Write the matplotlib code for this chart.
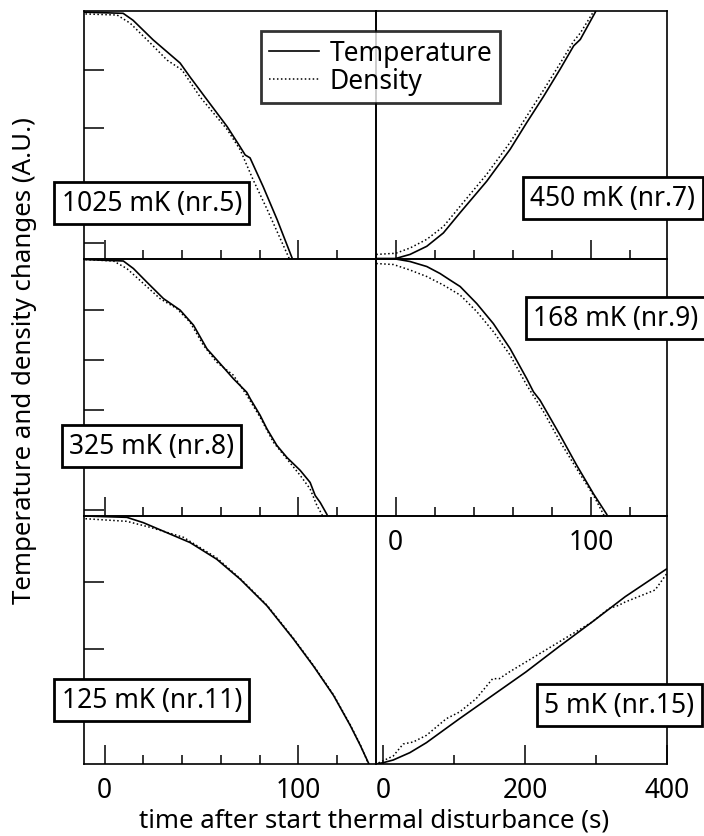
import matplotlib
matplotlib.use("Agg")
import matplotlib.pyplot as plt
from matplotlib.lines import Line2D

plt.rcParams['font.family'] = ['Noto Sans', 'DejaVu Sans']
plt.rcParams['font.size'] = 19

W, H = 704, 837

# 1025 mK (nr.5)
t5_T = [-12, -10.7, 9.5, 14.6, 25, 38.9, 44, 52.9, 63.2, 69.9, 72.5, 75, 81.8, 89, 96.8, 99]
y5_T = [0, 0, -0.02, -0.14, -0.48, -0.88, -1.12, -1.52, -1.98, -2.33, -2.47, -2.52, -3.02, -3.59, -4.26, -4.5]
t5_D = [-12, -10.7, 6.4, 13.1, 23.4, 32.2, 39.9, 49.3, 63.2, 69.9, 76.6, 83.8, 95.2, 97]
y5_D = [-0.03, -0.03, -0.05, -0.19, -0.53, -0.83, -1.0, -1.47, -2.03, -2.38, -2.9, -3.41, -4.26, -4.5]

# 450 mK (nr.7)
t7_T = [-12, -10.1, 0, 7.3, 15.9, 24.4, 33, 46.6, 58.6, 67.1, 75.7, 84.2, 91.1, 94.5, 102.2, 104]
y7_T = [0, 0, 0, 0.07, 0.21, 0.44, 0.79, 1.33, 1.88, 2.34, 2.79, 3.26, 3.66, 3.77, 4.24, 4.4]
t7_D = [-12, -10.1, 0, 7.3, 15.9, 24.4, 33, 46.6, 58.6, 67.1, 75.7, 84.2, 91.1, 94.5, 102.2, 104]
y7_D = [0.07, 0.07, 0.09, 0.18, 0.33, 0.55, 0.9, 1.45, 2.0, 2.45, 2.9, 3.36, 3.74, 3.88, 4.3, 4.45]

# 325 mK (nr.8)
t8_T = [-12, -10.5, 9.6, 14.8, 21.7, 30.3, 38.9, 45.8, 52.7, 59.6, 66.4, 73.3, 75.1, 80.2, 83.7,
        88.8, 94, 100.9, 106, 108.6, 111.2, 114.7, 116]
y8_T = [0, 0, -0.03, -0.18, -0.45, -0.78, -1.01, -1.31, -1.78, -2.08, -2.38, -2.65, -2.78, -3.11, -3.38,
        -3.71, -3.95, -4.21, -4.45, -4.71, -4.85, -5.09, -5.3]
t8_D = [-12, -10.5, 4.5, 11.4, 20, 28.5, 37.2, 44.0, 50.9, 57.8, 66.4, 73.3, 80.2, 87.1, 94,
        100.9, 106, 109.5, 112.1, 113.5]
y8_D = [0, 0, -0.03, -0.18, -0.48, -0.78, -0.98, -1.25, -1.71, -2.05, -2.31, -2.71, -3.15, -3.65, -3.98,
        -4.31, -4.58, -4.91, -5.09, -5.3]

# 168 mK (nr.9)
t9_T = [-12, -10.1, 0, 7.3, 15.9, 22.7, 27.8, 33, 41.5, 50, 58.6, 67.1, 70.5, 73.9, 84.2, 92.7, 101.3, 108.1, 109.5]
y9_T = [0, 0, 0, -0.05, -0.15, -0.29, -0.42, -0.55, -0.89, -1.29, -1.79, -2.39, -2.65, -2.82, -3.52, -4.12,
        -4.69, -5.1, -5.3]
t9_D = [-12, -10.1, -1.2, 7.3, 15.9, 24.4, 33, 41.5, 50, 58.6, 67.1, 75.7, 84.2, 92.7, 101.3, 106.4, 108]
y9_D = [-0.09, -0.09, -0.11, -0.22, -0.35, -0.52, -0.72, -1.05, -1.45, -1.92, -2.52, -3.05, -3.65, -4.19,
        -4.72, -5.1, -5.3]

# 125 mK (nr.11)
t11_T = [-12, -10.5, 11.4, 19.9, 32, 44.1, 57.8, 69.9, 83.7, 97.4, 107.8, 118.1, 126.7, 131.9, 136.2, 137.5]
y11_T = [0, 0, -0.02, -0.1, -0.25, -0.4, -0.65, -0.95, -1.35, -1.85, -2.26, -2.7, -3.15, -3.45, -3.72, -3.85]
t11_D = [-12, -10.5, 11.4, 23.4, 40.6, 57.8, 69.9, 83.7, 97.4, 107.8, 118.1, 126.7, 131.9, 136.0, 137.3]
y11_D = [-0.04, -0.04, -0.08, -0.17, -0.32, -0.63, -0.94, -1.34, -1.84, -2.25, -2.69, -3.14, -3.44, -3.72, -3.85]

# 5 mK (nr.15)
t15_T = [-12, -10.2, 0, 14, 37.4, 60.8, 84.1, 107.5, 154.2, 201, 247.7, 294.4, 341.1, 400]
y15_T = [0, 0, 0.02, 0.06, 0.17, 0.32, 0.5, 0.68, 1.03, 1.38, 1.76, 2.13, 2.51, 2.93]
t15_D = [-12, -10.2, 0, 14, 28, 42.1, 60.8, 88.9, 107.5, 130.9, 154.2, 163.6, 177.6, 201, 224.3, 247.7,
         271, 294.4, 317.8, 331.8, 341.1, 364.5, 383.2, 400]
y15_D = [0, 0, 0.05, 0.12, 0.3, 0.33, 0.43, 0.68, 0.78, 0.98, 1.28, 1.28, 1.38, 1.53, 1.68, 1.83,
         1.98, 2.13, 2.33, 2.38, 2.43, 2.53, 2.61, 2.86]

labels = ["1025 mK (nr.5)", "450 mK (nr.7)", "325 mK (nr.8)",
          "168 mK (nr.9)", "125 mK (nr.11)", "5 mK (nr.15)"]

fig = plt.figure(figsize=(W / 100, H / 100), dpi=100)


def px_box(x0, y0, x1, y1):
    return [x0 / W, 1 - y1 / H, (x1 - x0) / W, (y1 - y0) / H]


cols = [(84, 376), (376, 667)]
rows = [(12, 259.5), (259.5, 517), (517, 765)]

panels = [
    (t5_T, y5_T, t5_D, y5_D, (-10.7, 140), (-4.26, 0.02), [-1, -2, -3, -4]),
    (t7_T, y7_T, t7_D, y7_D, (-10.1, 138.9), (0, 4.26), []),
    (t8_T, y8_T, t8_D, y8_D, (-10.7, 140), (-5.12, 0.02), [-1, -2, -3, -4, -5]),
    (t9_T, y9_T, t9_D, y9_D, (-10.1, 138.9), (-5.13, 0.01), []),
    (t11_T, y11_T, t11_D, y11_D, (-10.7, 140), (-3.73, 0.0), [-1, -2, -3]),
    (t15_T, y15_T, t15_D, y15_D, (-10.3, 400), (0, 3.72), []),
]

axes = []
for i, (tT, yT, tD, yD, xl, yl, yt) in enumerate(panels):
    r, c = divmod(i, 2)
    ax = fig.add_axes(px_box(cols[c][0], rows[r][0], cols[c][1], rows[r][1]))
    ax.set_facecolor('none')
    ax.plot(tT, yT, color='black', lw=1.2, solid_capstyle='butt')
    ax.plot(tD, yD, color='black', lw=1.1, linestyle=(0, (1, 1.6)))
    ax.set_xlim(*xl)
    ax.set_ylim(*yl)
    for s in ax.spines.values():
        s.set_linewidth(1.2)
    ax.set_yticks(yt)
    ax.set_yticklabels([])
    ax.tick_params(axis='y', direction='in', length=14.5, width=1.1, left=True, right=False)
    if i == 5:
        ax.set_xticks([0, 200, 400])
        ax.set_xticks([100, 300], minor=True)
    else:
        ax.set_xticks([0, 100])
        ax.set_xticks([20, 40, 60, 80, 120], minor=True)
    ax.tick_params(axis='x', which='major', direction='in', length=14, width=1.1, pad=9)
    ax.tick_params(axis='x', which='minor', direction='in', length=6.5, width=1.1)
    if i not in (3, 4, 5):
        ax.set_xticklabels([])
    axes.append(ax)

fig.text(374 / W, 1 - 821 / H, "time after start thermal disturbance (s)", ha='center', va='center',
         fontsize=18.6)
fig.text(25 / W, 1 - 361 / H, "Temperature and density changes (A.U.)", ha='center', va='center',
         rotation=90, fontsize=18.6)

# panel labels in framed boxes
centers = [(151.7, 204), (613, 199), (151.5, 447), (616, 319), (151.7, 701), (619.5, 706)]
for (cx, cy), lab in zip(centers, labels):
    fig.text(cx / W, 1 - cy / H, lab, ha='center', va='center', zorder=10,
             bbox=dict(boxstyle='square,pad=0.28', facecolor='white', edgecolor='black', linewidth=2.0))

handles = [Line2D([], [], color='black', lw=1.2),
           Line2D([], [], color='black', lw=1.1, linestyle=(0, (1, 1.6)))]
leg = fig.legend(handles, ["Temperature", "Density"], loc='upper left',
                 bbox_to_anchor=(260.7 / W, 1 - 32.3 / H), borderaxespad=0,
                 frameon=True, fancybox=False, handlelength=1.9, handletextpad=0.4,
                 labelspacing=0.0, borderpad=0.3)
leg.get_frame().set_edgecolor('black')
leg.get_frame().set_linewidth(2.0)
leg.set_zorder(10)

fig.savefig("out.png", dpi=100)
